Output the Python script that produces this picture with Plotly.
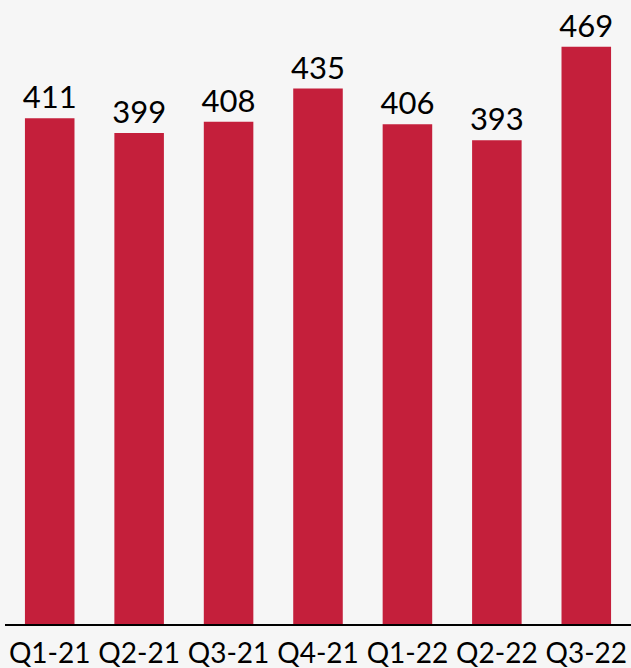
import plotly.graph_objects as go

categories = ["Q1-21", "Q2-21", "Q3-21", "Q4-21", "Q1-22", "Q2-22", "Q3-22"]
values = [411, 399, 408, 435, 406, 393, 469]

fig = go.Figure(go.Bar(
    x=categories, y=values,
    marker=dict(color="#c41f3b", line=dict(width=0)),
    text=[str(v) for v in values], textposition="outside",
    textfont=dict(family="Lato", size=31, color="#000000"),
    constraintext="none",
    cliponaxis=False,
))
fig.update_layout(
    width=631, height=668,
    margin=dict(l=5, r=0, t=0, b=44),
    paper_bgcolor="#f6f6f6", plot_bgcolor="#f6f6f6",
    bargap=0.446, showlegend=False,
    font=dict(family="Lato", size=30, color="#000000"),
)
fig.update_xaxes(showline=True, linecolor="#000000", linewidth=1.5, ticks="",
                 tickfont=dict(family="Lato", size=28, color="#000000"),
                 showgrid=False, ticklabelstandoff=4)
fig.update_yaxes(range=[0, 507], visible=False, showgrid=False)
fig.write_html("out.html", config={"displayModeBar": False})

with open("out.html", "r", encoding="utf-8") as f:
    html = f.read()
html = html.replace("<head>", "<head><style>html,body{margin:0;padding:0;overflow:hidden;background:#f6f6f6;}</style>", 1)
with open("out.html", "w", encoding="utf-8") as f:
    f.write(html)
